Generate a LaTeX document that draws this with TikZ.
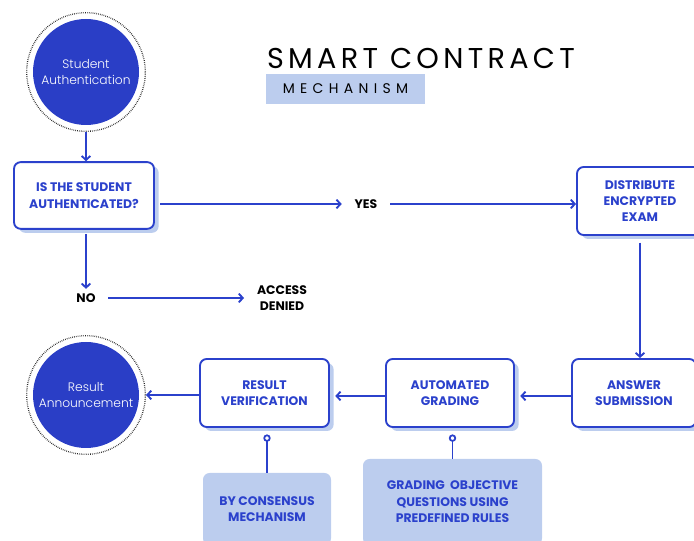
\documentclass[tikz,border=0pt]{standalone}
\usepackage{fontspec}
\setmainfont{Poppins}
\newfontfamily\titlefont{Poppins}[LetterSpace=15]
\newfontfamily\mechfont{Poppins}[LetterSpace=38]
\newfontfamily\lightfont{Poppins Light}
\usetikzlibrary{arrows.meta,shadows}
\definecolor{bblue}{HTML}{2B41CC}
\definecolor{dblue}{HTML}{2A3EC6}
\definecolor{lblue}{HTML}{BCCDEE}
\tikzset{
  ring/.style={circle, draw=black!85, line width=1pt, dash pattern=on 0.5pt off 0.9pt, minimum size=89pt, inner sep=0pt},
  disc/.style={circle, fill=dblue, minimum size=79.5pt, inner sep=0pt, text=white, align=center,
    font=\lightfont\fontsize{9.2}{12.7}\selectfont},
  box/.style={rectangle, rounded corners=5pt, draw=bblue, line width=1.4pt, fill=white, text=bblue,
    align=center, font=\bfseries\fontsize{9.3}{12.3}\selectfont,
    general shadow={fill=lblue, shadow xshift=3.5pt, shadow yshift=-3pt}},
  note/.style={rectangle, rounded corners=5pt, fill=lblue, text=bblue, align=center,
    font=\bfseries\fontsize{9.3}{12.3}\selectfont},
  lab/.style={text=black, align=center, inner xsep=9.5pt, font=\bfseries\fontsize{9.3}{12}\selectfont},
  conn/.style={draw=bblue, line width=1.4pt, -{Straight Barb[length=3pt,width=6.5pt]}},
  tail/.style={draw=bblue, line width=1.4pt, -{Circle[open,length=5.5pt,width=5.5pt,fill=white,line width=1.3pt]}}
}
\begin{document}
\begin{tikzpicture}[x=0.75pt,y=-0.75pt]
\useasboundingbox (0,0) rectangle (694,541);
% title
\node (title) at (421,58) {\titlefont\fontsize{21.5}{24}\selectfont SMART CONTRACT};
\node[fill=lblue, minimum width=119.25pt, minimum height=22.5pt, inner sep=0pt] (mech) at (345.5,89)
  {\mechfont\fontsize{10.5}{12}\selectfont MECHANISM};
% start circle
\node[ring] (sa) at (86,72) {};
\node[disc] (sai) at (86,72) {Student\\Authentication};
% boxes
\node[box, minimum width=105pt, minimum height=50pt] (q) at (84,195.5) {IS THE STUDENT\\AUTHENTICATED?};
\node[lab] (yes) at (366,204) {YES};
\node[box, minimum width=94.5pt, minimum height=51pt] (dist) at (640,201) {DISTRIBUTE\\ENCRYPTED\\EXAM};
\node[lab] (no) at (86,298) {NO};
\node[lab] (ad) at (282,298) {ACCESS\\DENIED};
\node[box, minimum width=93pt, minimum height=51pt] (ans) at (634,393) {ANSWER\\SUBMISSION};
\node[box, minimum width=96pt, minimum height=51pt] (auto) at (450,393) {AUTOMATED\\GRADING};
\node[box, minimum width=96.75pt, minimum height=51pt] (rv) at (264.5,393) {RESULT\\VERIFICATION};
\node[ring] (ra) at (86,395) {};
\node[disc] (rai) at (86,395) {Result\\Announcement};
\node[note, minimum width=96pt, minimum height=54pt] (n1) at (267,509) {BY CONSENSUS\\MECHANISM};
\node[note, minimum width=134.25pt, minimum height=64.5pt] (n2) at (452.5,502) {GRADING\ \ OBJECTIVE\\QUESTIONS USING\\PREDEFINED RULES};
% connectors
\draw[conn] (sa.south) -- (sa.south |- q.north);
\draw[conn] ([xshift=4pt]q.east |- yes.west) -- (yes.west);
\draw[conn] (yes.east) -- (yes.east -| dist.west);
\draw[conn] ([yshift=-5pt]dist.south) -- (dist.south |- ans.north);
\draw[conn] ([yshift=-2.25pt]ans.west) -- ([yshift=-2.25pt,xshift=4pt]auto.east);
\draw[conn] ([yshift=-2.25pt]auto.west) -- ([yshift=-2.25pt,xshift=4pt]rv.east);
\draw[conn] (rv.west |- ra.east) -- (ra.east);
\draw[conn] ([yshift=-3pt]q.south -| no.north) -- (no.north);
\draw[conn] (no.east) -- (ad.west);
\draw[tail] (n1.north) -- ([yshift=-4.9pt]rv.south -| n1.north);
\draw[tail] (n2.north) -- ([yshift=-4.9pt]auto.south -| n2.north);
\end{tikzpicture}
\end{document}
